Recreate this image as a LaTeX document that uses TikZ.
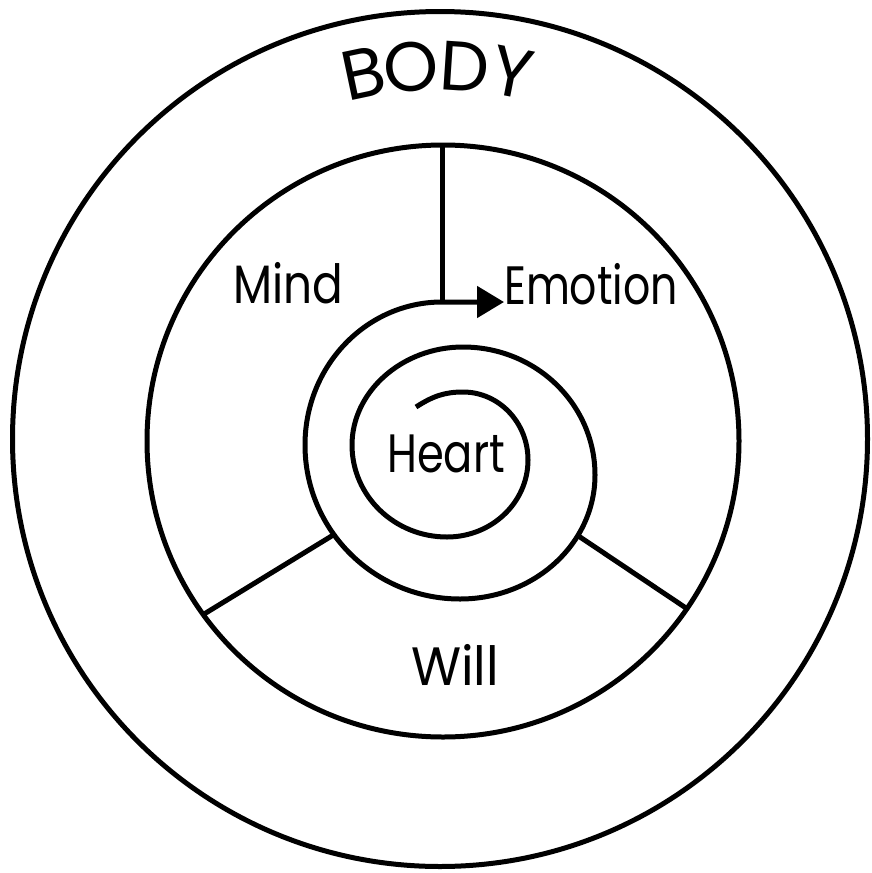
\documentclass[tikz,border=0pt]{standalone}
\usepackage{fontspec}
\setmainfont{Poppins}
\usetikzlibrary{arrows.meta,calc,intersections}
\begin{document}
\begin{tikzpicture}[x=1pt,y=1pt,line width=5pt,
  lbl/.style={font=\fontsize{54}{54}\selectfont,inner sep=0pt,anchor=base},
  bodyl/.style={font=\fontsize{70}{70}\selectfont,inner sep=0pt,anchor=base},
  tipstyle/.style={-{Triangle[length=27pt,width=31pt]}}]
\useasboundingbox (0,0) rectangle (871,-873);
\fill[white] (0,0) rectangle (871,-873);
\coordinate (C1) at (440,-439);
\coordinate (C2) at (443,-441);
\draw (C1) circle[radius=427.5];
\draw (C2) circle[radius=296];
% spiral with arrow
\draw[name path=spiral,tipstyle] (416,-407)
 .. controls (433,-396) and (445,-392) .. (463,-392)
 .. controls (498.9,-392) and (528,-422.4) .. (528,-460)
 .. controls (528,-502.5) and (491.7,-537) .. (447,-537)
 .. controls (394.5,-537) and (352,-496) .. (352,-445)
 .. controls (352,-392) and (401.7,-347) .. (463,-347)
 .. controls (535.9,-347) and (595,-404.3) .. (595,-475)
 .. controls (595,-543.5) and (534.6,-599) .. (460,-599)
 .. controls (374.4,-599) and (305,-530.1) .. (305,-445)
 .. controls (305,-366) and (366.3,-302) .. (442,-302)
 -- (504,-302);
% vertical divider
\coordinate (vt) at (442,-145);
\coordinate (vb) at (442,-302);
\draw (vt) -- (vb);
% lower dividers
\coordinate (dl) at ($(C2)+(215.9:296)$);
\coordinate (dr) at ($(C2)+(325.5:296)$);
\coordinate (gl) at (330,-537);
\coordinate (gr) at (580,-537);
\path[name path=lineL] (dl) -- ($(dl)!1.15!(gl)$);
\path[name path=lineR] (dr) -- ($(dr)!1.15!(gr)$);
\draw[name intersections={of=lineL and spiral,sort by=lineL,name=iL}] (dl) -- (iL-1);
\draw[name intersections={of=lineR and spiral,sort by=lineR,name=iR}] (dr) -- (iR-1);
% labels
\node[lbl,xscale=0.84] (mind) at (288.5,-303) {Mind};
\node[lbl,xscale=0.79] (emotion) at (591,-304) {Emotion};
\node[lbl,xscale=0.80] (heart) at (446,-472) {Heart};
\node[lbl,xscale=0.95] (will) at (455,-685) {Will};
% BODY, letter by letter along an arc
\node[bodyl,rotate=11.9] (b1) at ($(C1)+(101.9:349)$) {B};
\node[bodyl,rotate=4.5] (b2) at ($(C1)+(94.5:349)$) {O};
\node[bodyl,rotate=-3.8] (b3) at ($(C1)+(86.2:349)$) {D};
\node[bodyl,rotate=-11.1] (b4) at ($(C1)+(78.9:349)$) {Y};
\end{tikzpicture}
\end{document}
